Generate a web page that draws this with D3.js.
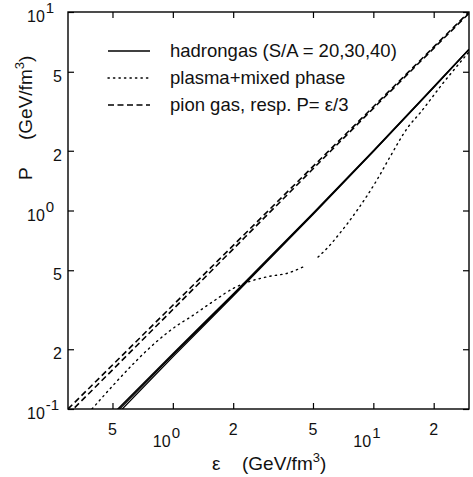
<!DOCTYPE html>
<html>
<head>
<meta charset="utf-8">
<script src="https://cdn.jsdelivr.net/npm/d3@7"></script>
<style>
  body { margin: 0; background: #fff; }
  svg { display: block; font-family: "Liberation Sans", Arial, Helvetica, sans-serif; }
</style>
</head>
<body>
<div id="chart"></div>
<script>
// Data (energy density eps, pressure P, both GeV/fm^3)
const epsDashed = [0.3, 1, 3, 10, 30];
const pIdeal = [0.1, 0.333, 1, 3.33, 10];          // P = eps/3
const pPion = [0.094, 0.317, 0.965, 3.27, 9.85];   // pion gas

const epsHadron = [0.5, 1, 2, 5, 10, 20, 30];
const pHadron20 = [0.094, 0.19, 0.38, 0.97, 2.0, 4.2, 6.5];
const pHadron30 = [0.092, 0.187, 0.376, 0.962, 1.99, 4.18, 6.48];
const pHadron40 = [0.089, 0.183, 0.371, 0.955, 1.98, 4.16, 6.46];

// plasma + mixed phase, two pieces (gap at the transition)
const epsPlasmaA = [0.395, 1.06, 1.22, 1.6, 2.0, 2.37, 3.0, 3.75, 4.46];
const pPlasmaA = [0.1, 0.265, 0.29, 0.35, 0.405, 0.436, 0.465, 0.484, 0.519];
const epsPlasmaB = [5.3, 6.0, 6.82, 8.29, 10.4, 12.1, 14.9, 17.1, 22.3, 30];
const pPlasmaB = [0.583, 0.66, 0.77, 1.0, 1.42, 1.86, 2.63, 3.1, 4.39, 6.3];

const xTicks = [0.5, 1, 2, 5, 10, 20];
const xTickLabels = ['5', '10|0', '2', '5', '10|1', '2'];
const yTicks = [0.1, 0.2, 0.5, 1, 2, 5, 10];
const yTickLabels = ['10|-1', '2', '5', '10|0', '2', '5', '10|1'];

const legendLabels = ['hadrongas (S/A = 20,30,40)', 'plasma+mixed phase', 'pion gas, resp. P= \u03b5/3'];
const legendDash = [null, '1.3,4.2', '6,3.5'];

const W = 473, H = 477;
const margin = { top: 12, right: 4, bottom: 68, left: 68 };

const svg = d3.select('#chart').append('svg')
    .attr('width', W)
    .attr('height', H);

const x = d3.scaleLog().domain([0.3, 30]).range([margin.left, W - margin.right]);
const y = d3.scaleLog().domain([0.1, 10]).range([H - margin.bottom, margin.top]);

const plotW = W - margin.right - margin.left;
const plotH = H - margin.bottom - margin.top;

svg.append('clipPath').attr('id', 'clip')
  .append('rect')
    .attr('x', margin.left).attr('y', margin.top)
    .attr('width', plotW).attr('height', plotH);

// ticks on all four sides, pointing inward
function tickAxis(axis, tr, values) {
    const g = svg.append('g')
        .attr('transform', tr)
        .call(axis.tickValues(values).tickSize(6).tickFormat(''));
    g.select('.domain').remove();
    g.selectAll('.tick line').attr('stroke', '#000').attr('stroke-width', 1.2);
    return g;
}
tickAxis(d3.axisTop(x), `translate(0,${H - margin.bottom})`, xTicks);
tickAxis(d3.axisBottom(x), `translate(0,${margin.top})`, xTicks);
tickAxis(d3.axisRight(y), `translate(${margin.left},0)`, yTicks);
tickAxis(d3.axisLeft(y), `translate(${W - margin.right},0)`, yTicks);

svg.append('rect')
    .attr('x', margin.left).attr('y', margin.top)
    .attr('width', plotW).attr('height', plotH)
    .attr('fill', 'none').attr('stroke', '#000').attr('stroke-width', 1.4);

// tick labels
yTicks.forEach((v, i) => {
    const lab = yTickLabels[i];
    const t = svg.append('text').attr('font-size', 16).attr('fill', '#111');
    if (lab.includes('|')) {
        const [base, sup] = lab.split('|');
        t.attr('x', 27).attr('y', y(v) + 10);
        t.append('tspan').text(base);
        t.append('tspan').attr('dy', -9).attr('dx', 1).attr('font-size', 15).text(sup);
    } else {
        t.attr('x', 62).attr('y', y(v) + 10).attr('text-anchor', 'end').text(lab);
    }
});
xTicks.forEach((v, i) => {
    const lab = xTickLabels[i];
    const t = svg.append('text').attr('font-size', 16).attr('fill', '#111');
    if (lab.includes('|')) {
        const [base, sup] = lab.split('|');
        t.attr('x', x(v) - 20).attr('y', 447);
        t.append('tspan').text(base);
        t.append('tspan').attr('dy', -9).attr('dx', 1).attr('font-size', 15).text(sup);
    } else {
        t.attr('x', x(v)).attr('y', 435).attr('text-anchor', 'middle').text(lab);
    }
});

// axis titles
const xt = svg.append('text').attr('x', 212).attr('y', 470).attr('font-size', 19).attr('fill', '#111');
xt.append('tspan').text('\u03b5');
xt.append('tspan').attr('x', 242).text('(GeV/fm');
xt.append('tspan').attr('dy', -8).attr('font-size', 13).text('3');
xt.append('tspan').attr('dy', 8).text(')');

const yt = svg.append('text').attr('transform', 'translate(32,180) rotate(-90)')
    .attr('font-size', 19).attr('fill', '#111');
yt.append('tspan').text('P');
yt.append('tspan').attr('x', 40).text('(GeV/fm');
yt.append('tspan').attr('dy', -8).attr('font-size', 13).text('3');
yt.append('tspan').attr('dy', 8).text(')');

// curves
const line = d3.line().x(d => x(d[0])).y(d => y(d[1])).curve(d3.curveMonotoneX);
const plot = svg.append('g').attr('clip-path', 'url(#clip)');

function drawCurve(xs, ys, dash, width) {
    plot.append('path')
        .datum(d3.zip(xs, ys))
        .attr('d', line)
        .attr('fill', 'none')
        .attr('stroke', '#000')
        .attr('stroke-width', width)
        .attr('stroke-dasharray', dash)
        .attr('stroke-linecap', dash && dash.startsWith('1.3') ? 'round' : 'butt');
}

drawCurve(epsDashed, pIdeal, legendDash[2], 1.6);
drawCurve(epsDashed, pPion, legendDash[2], 1.6);
drawCurve(epsHadron, pHadron20, null, 1.3);
drawCurve(epsHadron, pHadron30, null, 1.3);
drawCurve(epsHadron, pHadron40, null, 1.3);
drawCurve(epsPlasmaA, pPlasmaA, legendDash[1], 1.4);
drawCurve(epsPlasmaB, pPlasmaB, legendDash[1], 1.4);

// legend
legendLabels.forEach((lab, i) => {
    const ly = 51 + i * 27;
    svg.append('line')
        .attr('x1', 108).attr('x2', 150).attr('y1', ly).attr('y2', ly)
        .attr('stroke', '#000').attr('stroke-width', 1.4)
        .attr('stroke-dasharray', legendDash[i])
        .attr('stroke-linecap', i === 1 ? 'round' : 'butt');
    svg.append('text')
        .attr('x', 170).attr('y', ly + 6)
        .attr('font-size', 18.5).attr('fill', '#111')
        .text(lab);
});
</script>
</body>
</html>
